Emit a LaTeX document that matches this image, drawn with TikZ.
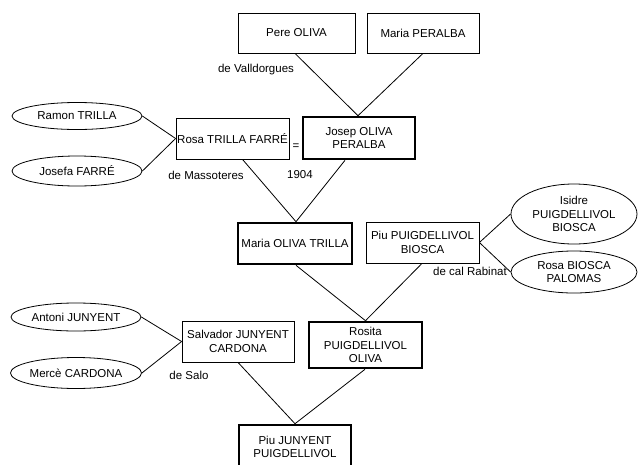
\documentclass[tikz,border=0pt]{standalone}
\usepackage{fontspec}
\setmainfont{Liberation Sans}
\usetikzlibrary{shapes.geometric}
\begin{document}
\begin{tikzpicture}[x=1pt,y=-1pt,
  every node/.style={font=\fontsize{11.5}{13.5}\selectfont, align=center, inner sep=0.5pt},
  pbox/.style={draw, line width=0.8pt, rectangle, minimum width=#1, minimum height=41pt},
  tbox/.style={draw, line width=2.6pt, rectangle, minimum width=#1, minimum height=41pt},
  pell/.style={draw, line width=0.8pt, ellipse, inner sep=0pt, minimum width=130pt},
  link/.style={line width=0.8pt},
  lbl/.style={inner sep=0pt}]
\useasboundingbox (0,0) rectangle (638,464);
\fill[white] (0,0) rectangle (638,464);
% top generation
\node[pbox=117pt, minimum height=40pt] (pere) at (296.5,33) {Pere OLIVA};
\node[pbox=112pt, minimum height=40pt] (mperalba) at (423,33) {Maria PERALBA};
\node[tbox=112pt, minimum height=42pt] (josep) at (359,138) {Josep OLIVA\\PERALBA};
\node[pbox=113pt] (rosa) at (232.5,138.5) {Rosa TRILLA FARRÉ};
\node[pell, minimum height=27pt] (ramon) at (77,116) {Ramon TRILLA};
\node[pell, minimum height=30pt] (josefa) at (77,171) {Josefa FARRÉ};
% second
\node[tbox=114pt] (maria) at (295,243.5) {Maria OLIVA TRILLA};
\node[pbox=113pt] (piu) at (422.5,242.5) {Piu PUIGDELLIVOL\\BIOSCA};
\node[pell, minimum width=126pt, minimum height=60pt] (isidre) at (574,214) {Isidre\\PUIGDELLIVOL\\BIOSCA};
\node[pell, minimum width=126pt, minimum height=42pt] (rbiosca) at (574,272) {Rosa BIOSCA\\PALOMAS};
% third
\node[tbox=113pt, minimum height=46pt] (rosita) at (365.5,345) {Rosita\\PUIGDELLIVOL\\OLIVA};
\node[pbox=112pt] (salvador) at (238,341.5) {Salvador JUNYENT\\CARDONA};
\node[pell, minimum height=28pt] (antoni) at (76,317) {Antoni JUNYENT};
\node[pell, minimum height=31pt] (merce) at (76,373) {Mercè CARDONA};
% bottom
\node[tbox=112pt, minimum height=44pt] (piuj) at (295,447) {Piu JUNYENT\\PUIGDELLIVOL};
% labels
\node[lbl] (valld) at (256,70) {de Valldorgues};
\node[lbl] (masso) at (206,175) {de Massoteres};
\node[lbl] (y1904) at (300,175) {1904};
\node[lbl] (rabinat) at (470,271) {de cal Rabinat};
\node[lbl] (salo) at (189,375) {de Salo};
\node[lbl] (eq) at (296,147) {=};
% connectors
\coordinate (jtop) at ([xshift=-1pt]josep.north);
\draw[link] ([xshift=-1.5pt]pere.south) -- (jtop);
\draw[link] (mperalba.south) -- (jtop);
\draw[link] (ramon.east) -- (rosa.west);
\draw[link] (josefa.east) -- (rosa.west);
\coordinate (mtop) at ([xshift=1pt]maria.north);
\draw[link] ([xshift=10pt]rosa.south) -- (mtop);
\draw[link] ([xshift=-14pt]josep.south) -- (mtop);
\draw[link] (piu.east) -- (isidre.west);
\draw[link] (piu.east) -- (rbiosca.west);
\coordinate (rtop) at (rosita.north);
\draw[link] ([xshift=1pt]maria.south) -- (rtop);
\draw[link] ([xshift=-0.5pt]piu.south) -- (rtop);
\draw[link] (antoni.east) -- (salvador.west);
\draw[link] (merce.east) -- (salvador.west);
\coordinate (ptop) at (piuj.north);
\draw[link] (salvador.south) -- (ptop);
\draw[link] ([xshift=-0.5pt]rosita.south) -- (ptop);
\end{tikzpicture}
\end{document}
